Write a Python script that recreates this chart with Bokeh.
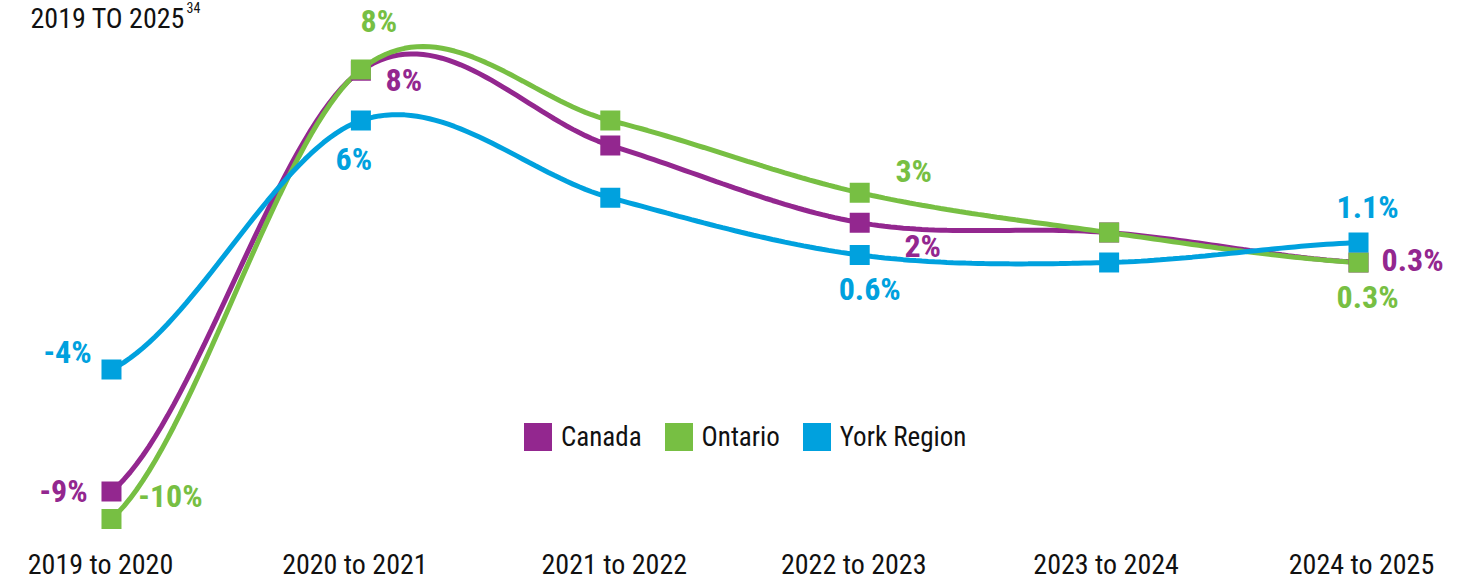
import numpy as np
from bokeh.plotting import figure
from bokeh.models import ColumnDataSource, Label, Legend, LegendItem
from bokeh.core.properties import value
from bokeh.embed import file_html
from bokeh.resources import INLINE

# ---- data ----
periods = ["2019 to 2020", "2020 to 2021", "2021 to 2022", "2022 to 2023", "2023 to 2024", "2024 to 2025"]
canada = [-8.9, 8.0, 5.0, 1.9, 1.5, 0.3]
ontario = [-10.0, 8.05, 6.0, 3.1, 1.5, 0.3]
york = [-4.0, 6.0, 2.9, 0.6, 0.3, 1.1]
canada_labels = ["-9%", "8%", "", "2%", "", "0.3%"]
ontario_labels = ["-10%", "8%", "", "3%", "", "0.3%"]
york_labels = ["-4%", "6%", "", "0.6%", "", "1.1%"]

# ---- styles / layout ----
FONT = "Roboto Condensed, Noto Sans ExtraCondensed, DejaVu Sans Condensed, sans-serif"
C_CAN, C_ONT, C_YRK = "#93278F", "#77BF43", "#00A1DE"
W, H = 1472, 581
canada_off = [(-48, -1), (43, 9), (0, 0), (63, 23), (0, 0), (54, -2)]
ontario_off = [(59, -23), (18, -48), (0, 0), (54, -22), (0, 0), (9, 35)]
york_off = [(-44, -18), (-7, 38), (0, 0), (10, 34), (0, 0), (9, -36)]
period_dx = [-11, -6, 4, -6, -3, 3]


def catmull_rom(xs, ys, n=40):
    xs = np.asarray(xs, float)
    ys = np.asarray(ys, float)
    m = len(ys)
    tang = np.zeros(m)
    for i in range(m):
        a = ys[max(i - 1, 0)]
        b = ys[min(i + 1, m - 1)]
        tang[i] = (b - a) / 2.0
    ox, oy = [], []
    for i in range(m - 1):
        t = np.linspace(0, 1, n, endpoint=(i == m - 2))
        h00 = 2 * t**3 - 3 * t**2 + 1
        h10 = t**3 - 2 * t**2 + t
        h01 = -2 * t**3 + 3 * t**2
        h11 = t**3 - t**2
        oy.extend(h00 * ys[i] + h10 * tang[i] + h01 * ys[i + 1] + h11 * tang[i + 1])
        ox.extend(xs[i] + t * (xs[i + 1] - xs[i]))
    return ox, oy


xi = list(range(len(periods)))

p = figure(width=W, height=H, x_range=(-0.445, 5.457), y_range=(-12.51, 10.82),
           x_axis_type=None, y_axis_type=None, toolbar_location=None,
           output_backend="svg", min_border=0, outline_line_color=None)

series = [("Canada", canada, canada_labels, canada_off, C_CAN),
          ("Ontario", ontario, ontario_labels, ontario_off, C_ONT),
          ("York Region", york, york_labels, york_off, C_YRK)]

for name, vals, labs, offs, col in series:
    sx, sy = catmull_rom(xi, vals)
    p.line(sx, sy, line_color=col, line_width=5)

legend_items = []
for name, vals, labs, offs, col in series:
    p.scatter(xi, vals, marker="square", size=20, fill_color=col, line_color=None)
    src = ColumnDataSource(dict(x=xi, y=vals, t=labs,
                                dx=[o[0] for o in offs], dy=[o[1] for o in offs]))
    p.text(x="x", y="y", text="t", x_offset="dx", y_offset="dy", source=src,
           text_color=col, text_font=value(FONT), text_font_style="bold",
           text_font_size="32px", text_align="center", text_baseline="middle")
    swatch = p.quad(left=[np.nan], right=[np.nan], top=[np.nan], bottom=[np.nan],
                    fill_color=col, line_color=None)
    legend_items.append(LegendItem(label=name, renderers=[swatch]))

# category labels
cat_src = ColumnDataSource(dict(x=xi, y=[-11.83] * len(xi), t=periods, dx=period_dx))
p.text(x="x", y="y", text="t", x_offset="dx", source=cat_src, text_font=value(FONT),
       text_font_size="28px", text_color="#111111", text_align="center",
       text_baseline="middle")

legend = Legend(items=legend_items, orientation="horizontal", location=(520, 127),
                glyph_width=35, glyph_height=35, label_standoff=6, spacing=19,
                padding=0, margin=0, border_line_color=None, background_fill_alpha=0,
                label_text_font=FONT, label_text_font_size="27px",
                label_text_color="#111111", label_text_baseline="middle")
p.add_layout(legend, "center")

p.add_layout(Label(x=30, y=H - 1, x_units="screen", y_units="screen",
                   text="2019 TO 2025", text_font=FONT, text_font_size="28px",
                   text_color="#111111", text_baseline="top"))
p.add_layout(Label(x=186, y=H - 1, x_units="screen", y_units="screen",
                   text="34", text_font=FONT, text_font_size="14px",
                   text_color="#111111", text_baseline="top"))

open("out.html", "w").write(file_html(p, INLINE))
